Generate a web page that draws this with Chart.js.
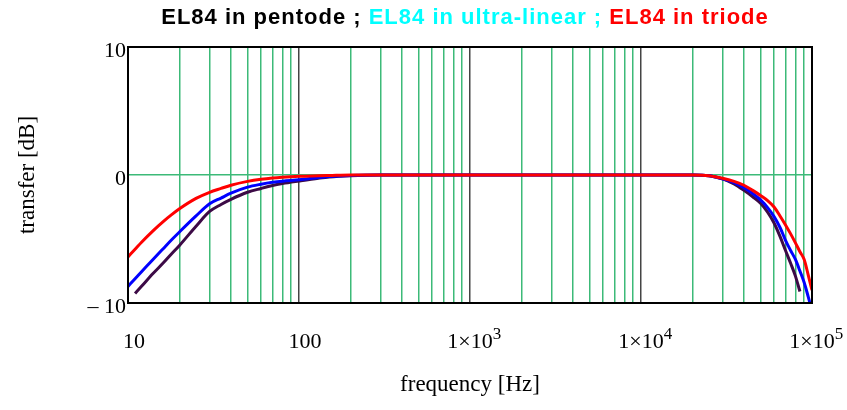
<!DOCTYPE html>
<html>
<head>
<meta charset="utf-8">
<script src="https://cdn.jsdelivr.net/npm/chart.js"></script>
<style>
  html, body { margin: 0; padding: 0; background: #fff; }
  #wrap { position: relative; width: 847px; height: 410px; }
  #title {
    position: absolute; left: 0; top: 4px; width: 930px;
    text-align: center; font: bold 22px "Liberation Sans", Arial, sans-serif;
    letter-spacing: 1px; white-space: nowrap;
  }
  canvas { position: absolute; left: 0; top: 0; }
</style>
</head>
<body>
<div id="wrap">
  <canvas id="c" width="847" height="410"></canvas>
  <div id="title"><span style="color:#000">EL84 in pentode ; </span><span style="color:#00ffff">EL84 in ultra-linear ; </span><span style="color:#ff0000">EL84 in triode</span></div>
</div>
<script>
// frequency in Hz
var freq = [10, 11, 12, 14, 16, 18, 20, 25, 30, 35, 40, 50, 60, 70, 80, 100, 130, 150, 200, 300, 1000,
  10000, 20000, 25000, 30000, 35000, 40000, 45000, 50000, 55000, 60000, 65000, 70000, 75000, 80000, 85000, 90000, 95000, 100000];

// transfer in dB
var pentode = [null, -9.25, -8.7, -7.7, -6.9, -6.15, -5.5, -4.0, -2.85, -2.3, -1.9, -1.35, -1.05, -0.82, -0.67, -0.47, -0.25, -0.15, -0.05, 0, 0,
  0, 0, -0.05, -0.3, -0.7, -1.2, -1.7, -2.2, -2.9, -3.75, -4.8, -5.9, -6.9, -7.9, -9.1, null, null, null];
var ultraLinear = [-8.7, -8.1, -7.56, -6.6, -5.78, -5.06, -4.45, -3.2, -2.25, -1.8, -1.42, -0.95, -0.72, -0.57, -0.48, -0.38, -0.2, -0.12, -0.03, 0, 0,
  0, 0, -0.05, -0.3, -0.6, -1.0, -1.45, -1.95, -2.55, -3.25, -4.1, -5.1, -5.9, -6.6, -7.5, -8.4, -9.5, -10.6];
var triode = [-6.4, -5.8, -5.25, -4.36, -3.66, -3.1, -2.64, -1.83, -1.35, -1.05, -0.8, -0.5, -0.33, -0.23, -0.17, -0.1, -0.06, -0.04, 0, 0, 0,
  0, 0, -0.05, -0.25, -0.5, -0.8, -1.2, -1.6, -2.0, -2.5, -3.2, -3.9, -4.6, -5.3, -6.0, -6.6, -7.8, -9.0];

var xDecades = [10, 100, 1000, 10000, 100000];
var xTickBase = ['10', '100', '1\u00d710', '1\u00d710', '1\u00d710'];
var xTickExp = ['', '', '3', '4', '5'];
var yTickValues = [-10, 0, 10];
var yTickLabels = ['\u2013 10', '0', '10'];

function pts(ys) {
  var out = [];
  for (var i = 0; i < freq.length; i++) {
    if (ys[i] !== null) out.push({ x: freq[i], y: ys[i] });
  }
  return out;
}

var serif = '"Liberation Serif", "Times New Roman", serif';

// frame round the plot and x tick labels with raised exponents
var frame = {
  id: 'frame',
  afterDraw: function (chart) {
    var a = chart.chartArea, ctx = chart.ctx, xs = chart.scales.x;
    ctx.save();
    ctx.strokeStyle = '#000';
    ctx.lineWidth = 2;
    ctx.strokeRect(a.left, a.top, a.right - a.left, a.bottom - a.top);
    ctx.fillStyle = '#000';
    ctx.textBaseline = 'alphabetic';
    for (var i = 0; i < xDecades.length; i++) {
      var px = xs.getPixelForValue(xDecades[i]);
      ctx.font = '22px ' + serif;
      if (xTickExp[i]) {
        var w = ctx.measureText(xTickBase[i]).width;
        ctx.textAlign = 'center';
        ctx.fillText(xTickBase[i], px, 348);
        ctx.textAlign = 'left';
        ctx.font = '17px ' + serif;
        ctx.fillText(xTickExp[i], px + w / 2, 339);
      } else {
        ctx.textAlign = 'center';
        ctx.fillText(xTickBase[i], px + 6, 348);
      }
    }
    ctx.restore();
  }
};

new Chart(document.getElementById('c'), {
  type: 'line',
  data: {
    datasets: [
      { label: 'triode', data: pts(triode), borderColor: '#ff0000', order: 0 },
      { label: 'ultra-linear', data: pts(ultraLinear), borderColor: '#0000ff', order: 1 },
      { label: 'pentode', data: pts(pentode), borderColor: '#3c0a46', order: 2 }
    ]
  },
  options: {
    responsive: false,
    animation: false,
    layout: { padding: { top: 47, right: 35, left: 0, bottom: 0 } },
    elements: {
      line: { borderWidth: 3, cubicInterpolationMode: 'monotone' },
      point: { radius: 0 }
    },
    plugins: { legend: { display: false }, tooltip: { enabled: false } },
    scales: {
      x: {
        type: 'logarithmic',
        min: 10, max: 100000,
        afterBuildTicks: function (scale) {
          var t = [];
          for (var d = 0; d < xDecades.length - 1; d++) {
            for (var k = 1; k < 10; k++) t.push({ value: xDecades[d] * k });
          }
          t.push({ value: xDecades[xDecades.length - 1] });
          scale.ticks = t;
        },
        afterFit: function (scale) {
          scale.height = 107;
          scale.paddingLeft = 0;
          scale.paddingRight = 0;
        },
        ticks: { display: false, autoSkip: false, maxRotation: 0 },
        grid: {
          drawTicks: false, lineWidth: 1.5,
          color: function (c) {
            var v = c.tick ? c.tick.value : 0;
            return xDecades.indexOf(v) >= 0 ? '#444444' : '#3cba78';
          }
        },
        border: { display: false },
        title: { display: true, text: 'frequency [Hz]', color: '#000', font: { family: serif, size: 23 }, padding: { top: 0, bottom: 11 } }
      },
      y: {
        min: -10, max: 10,
        afterBuildTicks: function (scale) {
          scale.ticks = yTickValues.map(function (v) { return { value: v }; });
        },
        afterFit: function (scale) {
          scale.width = 128;
          scale.paddingTop = 0;
          scale.paddingBottom = 0;
        },
        ticks: {
          padding: 2, labelOffset: 4,
          color: '#000', font: { family: serif, size: 22 },
          callback: function (v) {
            var i = yTickValues.indexOf(v);
            return i >= 0 ? yTickLabels[i] : '';
          }
        },
        grid: {
          drawTicks: false, lineWidth: 1.5,
          color: function (c) {
            return c.tick && c.tick.value === 0 ? '#3cba78' : 'rgba(0,0,0,0)';
          }
        },
        border: { display: false },
        title: { display: true, text: 'transfer [dB]', color: '#000', font: { family: serif, size: 23 }, padding: { top: 14, bottom: 0 } }
      }
    }
  },
  plugins: [frame]
});
</script>
</body>
</html>
